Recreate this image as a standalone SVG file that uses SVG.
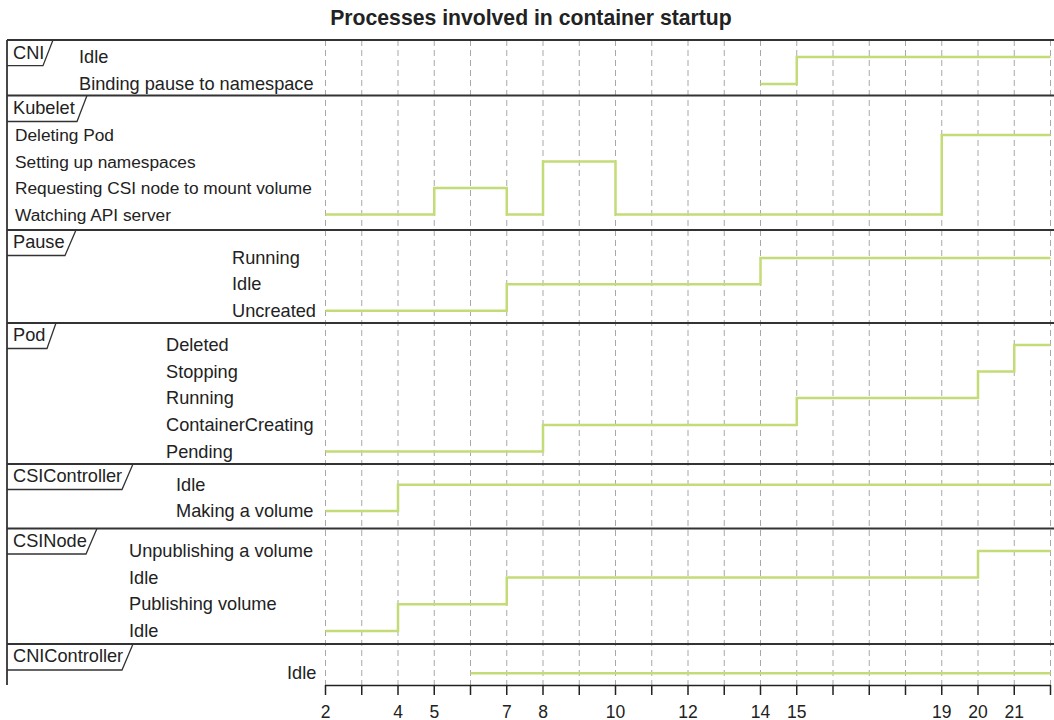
<svg xmlns="http://www.w3.org/2000/svg" width="1054" height="720" viewBox="0 0 1054 720">
<style>
text{font-family:"Liberation Sans",Arial,sans-serif;font-size:18.2px;fill:#222}
.title{font-weight:bold;font-size:21.2px}
.kl{font-size:17.3px}
.grid line{stroke:#a8a8a8;stroke-width:1;stroke-dasharray:6,4}
.frame{stroke:#333;stroke-width:1.8;fill:none}
.tag{stroke:#333;stroke-width:1.3;fill:none}
.step{stroke:#c3dc77;stroke-width:2.5;fill:none}
.axis{stroke:#222;stroke-width:1.5;fill:none}
.ax{text-anchor:middle;font-size:17.5px}
</style>
<rect width="1054" height="720" fill="#fff"/>
<text class="title" x="531" y="25" text-anchor="middle">Processes involved in container startup</text>
<g class="grid">
<line x1="325.5" y1="40" x2="325.5" y2="685"/>
<line x1="361.75" y1="40" x2="361.75" y2="685"/>
<line x1="398" y1="40" x2="398" y2="685"/>
<line x1="434.25" y1="40" x2="434.25" y2="685"/>
<line x1="470.5" y1="40" x2="470.5" y2="685"/>
<line x1="506.75" y1="40" x2="506.75" y2="685"/>
<line x1="543" y1="40" x2="543" y2="685"/>
<line x1="579.25" y1="40" x2="579.25" y2="685"/>
<line x1="615.5" y1="40" x2="615.5" y2="685"/>
<line x1="651.75" y1="40" x2="651.75" y2="685"/>
<line x1="688" y1="40" x2="688" y2="685"/>
<line x1="724.25" y1="40" x2="724.25" y2="685"/>
<line x1="760.5" y1="40" x2="760.5" y2="685"/>
<line x1="796.75" y1="40" x2="796.75" y2="685"/>
<line x1="833" y1="40" x2="833" y2="685"/>
<line x1="869.25" y1="40" x2="869.25" y2="685"/>
<line x1="905.5" y1="40" x2="905.5" y2="685"/>
<line x1="941.75" y1="40" x2="941.75" y2="685"/>
<line x1="978" y1="40" x2="978" y2="685"/>
<line x1="1014.25" y1="40" x2="1014.25" y2="685"/>
<line x1="1050.5" y1="40" x2="1050.5" y2="685"/>
</g>
<g id="frame" class="frame">
<line x1="7" y1="40" x2="1054" y2="40"/>
<line x1="7" y1="95.5" x2="1054" y2="95.5"/>
<line x1="7" y1="230" x2="1054" y2="230"/>
<line x1="7" y1="323" x2="1054" y2="323"/>
<line x1="7" y1="464" x2="1054" y2="464"/>
<line x1="7" y1="528.5" x2="1054" y2="528.5"/>
<line x1="7" y1="644" x2="1054" y2="644"/>
<line x1="7" y1="40" x2="7" y2="685"/>
</g>
<g id="axis">
<path class="axis" d="M325.5,685.5 H1050.5 M325.5,685 V695 M361.75,685 V695 M398,685 V695 M434.25,685 V695 M470.5,685 V695 M506.75,685 V695 M543,685 V695 M579.25,685 V695 M615.5,685 V695 M651.75,685 V695 M688,685 V695 M724.25,685 V695 M760.5,685 V695 M796.75,685 V695 M833,685 V695 M869.25,685 V695 M905.5,685 V695 M941.75,685 V695 M978,685 V695 M1014.25,685 V695 M1050.5,685 V695"/>
<text class="ax" x="325.5" y="718">2</text>
<text class="ax" x="398" y="718">4</text>
<text class="ax" x="434.25" y="718">5</text>
<text class="ax" x="506.75" y="718">7</text>
<text class="ax" x="543" y="718">8</text>
<text class="ax" x="615.5" y="718">10</text>
<text class="ax" x="688" y="718">12</text>
<text class="ax" x="760.5" y="718">14</text>
<text class="ax" x="796.75" y="718">15</text>
<text class="ax" x="941.75" y="718">19</text>
<text class="ax" x="978" y="718">20</text>
<text class="ax" x="1014.25" y="718">21</text>
</g>
<g id="cni">
<path class="tag" d="M7,65.7 H43 L53,40"/>
<text x="13" y="58.5">CNI</text>
<text x="79" y="63">Idle</text>
<text x="79" y="90">Binding pause to namespace</text>
</g>
<g id="kubelet">
<path class="tag" d="M7,121.5 H77 L87,95.5"/>
<text x="13" y="113.5">Kubelet</text>
<text class="kl" x="15" y="141">Deleting Pod</text>
<text class="kl" x="15" y="167.5">Setting up namespaces</text>
<text class="kl" x="15" y="194">Requesting CSI node to mount volume</text>
<text class="kl" x="15" y="220.5">Watching API server</text>
</g>
<g id="pause">
<path class="tag" d="M7,255.5 H65 L76,230"/>
<text x="13" y="248">Pause</text>
<text x="232" y="264">Running</text>
<text x="232" y="290.3">Idle</text>
<text x="232" y="316.7">Uncreated</text>
</g>
<g id="pod">
<path class="tag" d="M7,348.5 H47 L56,323"/>
<text x="13" y="341">Pod</text>
<text x="166" y="351">Deleted</text>
<text x="166" y="377.5">Stopping</text>
<text x="166" y="404">Running</text>
<text x="166" y="431">ContainerCreating</text>
<text x="166" y="457.5">Pending</text>
</g>
<g id="csicontroller">
<path class="tag" d="M7,489.5 H122 L133,464"/>
<text x="13" y="482">CSIController</text>
<text x="176" y="490.7">Idle</text>
<text x="176" y="517">Making a volume</text>
</g>
<g id="csinode">
<path class="tag" d="M7,554 H86 L97,528.5"/>
<text x="13" y="546.5">CSINode</text>
<text x="129" y="557">Unpublishing a volume</text>
<text x="129" y="583.5">Idle</text>
<text x="129" y="610.3">Publishing volume</text>
<text x="129" y="637">Idle</text>
</g>
<g id="cnicontroller">
<path class="tag" d="M7,670 H122 L133,644"/>
<text x="13" y="662">CNIController</text>
<text x="287" y="679.3">Idle</text>
</g>
<g id="connectors">
<path class="step" d="M760.5,84 H796.75 V57 H1050.5"/>
<path class="step" d="M325.5,214.5 H434.25 V188 H506.75 V214.5 H543 V161.5 H615.5 V214.5 H941.75 V135 H1050.5"/>
<path class="step" d="M325.5,310.7 H506.75 V284.3 H760.5 V258 H1050.5"/>
<path class="step" d="M325.5,451.5 H543 V425 H796.75 V398 H978 V371.5 H1014.25 V345 H1050.5"/>
<path class="step" d="M325.5,511 H398 V484.7 H1050.5"/>
<path class="step" d="M325.5,631 H398 V604.3 H506.75 V577.5 H978 V551 H1050.5"/>
<path class="step" d="M470.5,673.3 H1050.5"/>
</g>
</svg>
